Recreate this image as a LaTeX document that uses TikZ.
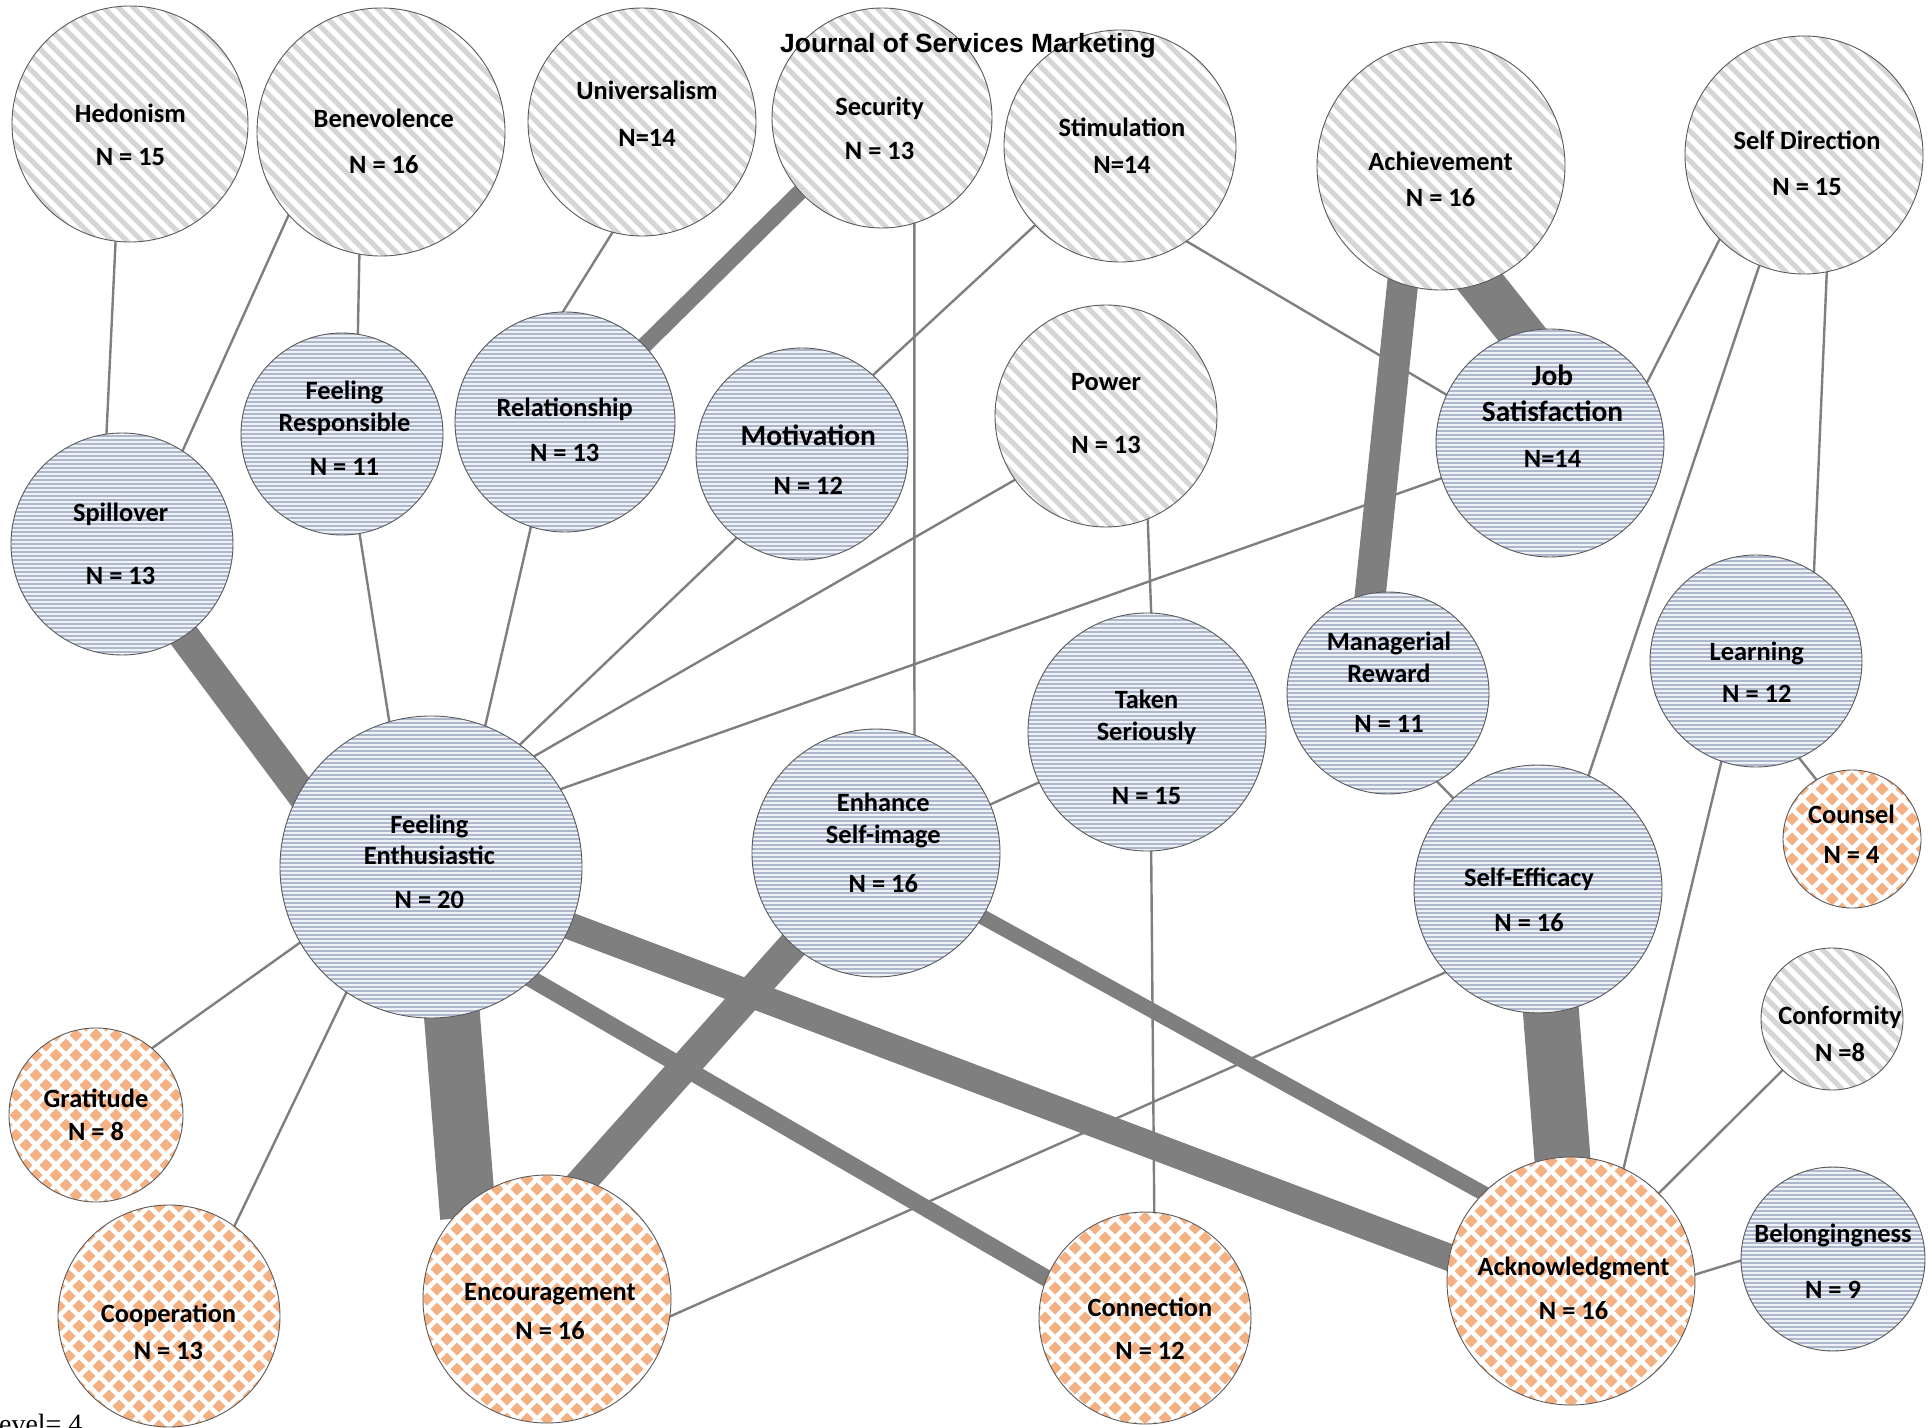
\documentclass[tikz,border=0pt]{standalone}
\usepackage{fontspec}
\setmainfont{Carlito}
\newfontfamily\titlefont{Liberation Sans}
\newfontfamily\seriffont{Liberation Serif}
\pgfdeclarelayer{background}
\pgfsetlayers{background,main}
\definecolor{edgec}{HTML}{7F7F7F}
\definecolor{stripeG}{HTML}{D6D6D6}
\definecolor{stripeB}{HTML}{ADB8CD}
\definecolor{fillB}{HTML}{EEF1F6}
\definecolor{orangeD}{HTML}{F4B183}
\definecolor{rimc}{HTML}{595959}
\tikzset{
  basecirc/.style={circle, draw=rimc, line width=0.9pt, inner sep=0pt, minimum size=#1},
  valuenode/.style={basecirc=#1, fill=white, path picture={
      \begin{scope}[shift={(path picture bounding box.center)}]
        \foreach \k in {-17,...,17}
          \draw[line width=5bp, stripeG] (\k*15-175,-175) -- (\k*15+175,175);
      \end{scope}}},
  feelnode/.style={basecirc=#1, fill=fillB, path picture={
      \begin{scope}[shift={(path picture bounding box.center)}]
        \foreach \k in {-39,...,39}
          \draw[line width=2bp, stripeB] (-160,\k*4) -- (160,\k*4);
      \end{scope}}},
  actnode/.style={basecirc=#1, fill=white, path picture={
      \begin{scope}[shift={(path picture bounding box.center)}]
        \foreach \a in {-7,...,7}
          \foreach \b in {-7,...,7} {
            \fill[orangeD] (\a*20,\b*20-6.5) -- (\a*20+6.5,\b*20) -- (\a*20,\b*20+6.5) -- (\a*20-6.5,\b*20) -- cycle;
            \fill[orangeD] (\a*20+10,\b*20+3.5) -- (\a*20+16.5,\b*20+10) -- (\a*20+10,\b*20+16.5) -- (\a*20+3.5,\b*20+10) -- cycle;
          }
      \end{scope}}},
  lbl/.style={font=\bfseries\fontsize{26.5}{30}\selectfont, inner sep=0pt, text height=16.7pt, text depth=0pt, anchor=center},
  biglbl/.style={font=\bfseries\fontsize{29.5}{34}\selectfont, inner sep=0pt, text height=18.6pt, text depth=0pt, anchor=center},
  edge/.style={draw=edgec, line width=2.4bp, shorten <=-14pt, shorten >=-14pt},
}
\begin{document}
\begin{tikzpicture}[x=1bp, y=-1bp]
\useasboundingbox (0,0) rectangle (1929,1428);

% value nodes (grey diagonal stripes)
\node[valuenode=236bp] (hed) at (130,124) {};
\node[valuenode=248bp] (ben) at (381,132) {};
\node[valuenode=228bp] (uni) at (642,122) {};
\node[valuenode=220bp] (sec) at (882,118) {};
\node[valuenode=232bp] (sti) at (1120,146) {};
\node[valuenode=248bp] (ach) at (1441,166) {};
\node[valuenode=238bp] (sdir) at (1804,155) {};
\node[valuenode=222bp] (pow) at (1106,416) {};
\node[valuenode=142bp] (conf) at (1832,1019) {};

% feeling nodes (blue horizontal stripes)
\node[feelnode=202bp] (fr) at (342,434) {};
\node[feelnode=220bp] (rel) at (565,422) {};
\node[feelnode=212bp] (mot) at (802,454) {};
\node[feelnode=222bp] (spill) at (122,544) {};
\node[feelnode=228bp] (js) at (1550,443) {};
\node[feelnode=202bp] (mr) at (1388,693) {};
\node[feelnode=212bp] (learn) at (1756,661) {};
\node[feelnode=238bp] (ts) at (1147,732) {};
\node[feelnode=248bp] (enh) at (876,853) {};
\node[feelnode=302bp] (fe) at (431,867) {};
\node[feelnode=248bp] (se) at (1538,889) {};
\node[feelnode=184bp] (bel) at (1833,1259) {};

% action nodes (orange diamonds)
\node[actnode=138bp] (couns) at (1852,839) {};
\node[actnode=174bp] (grat) at (96,1115) {};
\node[actnode=222bp] (coop) at (169,1316) {};
\node[actnode=248bp] (enc) at (547,1299) {};
\node[actnode=212bp] (conn) at (1145,1318) {};
\node[actnode=248bp] (ack) at (1571,1281) {};

% connectors
\begin{pgfonlayer}{background}
\draw[edge] (hed.263) -- (spill.98);
\draw[edge] (ben.222) -- (spill.57);
\draw[edge] (ben.260) -- (fr.81);
\draw[edge] (uni.255) -- (rel.91);
\draw[edge, line width=16bp] (sec.222) -- (rel.44);
\draw[edge] (sec.287) -- (enh.72);
\draw[edge] (sti.223) -- (mot.48);
\draw[edge] (sti.305) -- (js.155);
\draw[edge, line width=31bp] (ach.252) -- (mr.100);
\draw[edge, line width=45bp] (ach.289) -- (js.105);
\draw[edge] (sdir.225) -- (js.32);
\draw[edge] (sdir.248) -- (se.66);
\draw[edge] (sdir.281) -- (learn.57);
\draw[edge] (pow.215) -- (fe.47);
\draw[edge] (pow.292) -- (ts.88);
\draw[edge] (fr.280) -- (fe.106);
\draw[edge] (rel.252) -- (fe.69);
\draw[edge] (mot.232) -- (fe.54);
\draw[edge] (js.198) -- (fe.31);
\draw[edge, line width=31bp] (spill.304) -- (fe.150);
\draw[edge] (enh.23) -- (ts.205);
\draw[edge] (mr.299) -- (se.133);
\draw[edge] (learn.294) -- (couns.121);
\draw[edge] (learn.251) -- (ack.65);
\draw[edge] (ts.272) -- (conn.85);
\draw[edge] (fe.210) -- (grat.50);
\draw[edge] (fe.236) -- (coop.54);
\draw[edge, line width=56bp] (fe.278) -- (enc.130);
\draw[edge, line width=17bp] (fe.312) -- (conn.158);
\draw[edge, line width=27bp] (fe.337) -- (ack.169);
\draw[edge, line width=30bp] (enh.228) -- (enc.73);
\draw[edge, line width=15bp] (enh.329) -- (ack.135);
\draw[edge] (se.222) -- (enc.352);
\draw[edge, line width=56bp] (se.276) -- (ack.94);
\draw[edge] (conf.226) -- (ack.45);
\draw[edge] (bel.181) -- (ack.3);
\end{pgfonlayer}

% labels
\node[lbl] (hedA) at (130.4,114.4) {Hedonism};
\node[lbl] (hedB) at (130.4,157) {N = 15};
\node[lbl] (benA) at (383.8,119.3) {Benevolence};
\node[lbl] (benB) at (383.8,164.8) {N = 16};
\node[lbl] (uniA) at (647,91) {Universalism};
\node[lbl] (uniB) at (647,137.8) {N=14};
\node[lbl] (secA) at (879.6,107) {Security};
\node[lbl] (secB) at (879.6,151.3) {N = 13};
\node[lbl] (stiA) at (1122,128) {Stimulation};
\node[lbl] (stiB) at (1122,164.8) {N=14};
\node[lbl] (achA) at (1440.6,162.4) {Achievement};
\node[lbl] (achB) at (1440.6,198) {N = 16};
\node[lbl] (sdirA) at (1807,141.5) {Self Direction};
\node[lbl] (sdirB) at (1807,187) {N = 15};
\node[lbl] (powA) at (1106,382.6) {Power};
\node[lbl] (powB) at (1106,445.3) {N = 13};
\node[lbl] (frA) at (344.5,391.2) {Feeling};
\node[lbl] (frB) at (344.5,423.2) {Responsible};
\node[lbl] (frC) at (344.5,467.5) {N = 11};
\node[lbl] (relA) at (564.7,408.4) {Relationship};
\node[lbl] (relB) at (564.7,452.7) {N = 13};
\node[biglbl] (motA) at (808.3,436.7) {Motivation};
\node[lbl] (motB) at (808.3,486) {N = 12};
\node[lbl] (spillA) at (120.6,513) {Spillover};
\node[lbl] (spillB) at (120.6,575.7) {N = 13};
\node[biglbl] (jsA) at (1552.5,376.4) {Job};
\node[biglbl] (jsB) at (1552.5,412.1) {Satisfaction};
\node[lbl] (jsC) at (1552.5,458.9) {N=14};
\node[lbl] (mrA) at (1389,642.2) {Managerial};
\node[lbl] (mrB) at (1389,674.2) {Reward};
\node[lbl] (mrC) at (1389,724.6) {N = 11};
\node[lbl] (learnA) at (1756.8,652) {Learning};
\node[lbl] (learnB) at (1756.8,693.8) {N = 12};
\node[lbl] (tsA) at (1146.5,700) {Taken};
\node[lbl] (tsB) at (1146.5,732) {Seriously};
\node[lbl] (tsC) at (1146.5,796) {N = 15};
\node[lbl] (enhA) at (883.3,803.3) {Enhance};
\node[lbl] (enhB) at (883.3,835.3) {Self-image};
\node[lbl] (enhC) at (883.3,884.5) {N = 16};
\node[lbl] (feA) at (429.3,825.5) {Feeling};
\node[lbl] (feB) at (429.3,856.5) {Enthusiastic};
\node[lbl] (feC) at (429.3,900) {N = 20};
\node[lbl] (seA) at (1529,878.4) {Self-Efficacy};
\node[lbl] (seB) at (1529,922.7) {N = 16};
\node[lbl] (counsA) at (1851.5,815.6) {Counsel};
\node[lbl] (counsB) at (1851.5,855) {N = 4};
\node[lbl] (confA) at (1840,1016) {Conformity};
\node[lbl] (confB) at (1840,1053.3) {N =8};
\node[lbl] (gratA) at (96,1099.3) {Gratitude};
\node[lbl] (gratB) at (96,1131.7) {N = 8};
\node[lbl] (coopA) at (168.5,1313.8) {Cooperation};
\node[lbl] (coopB) at (168.5,1350.8) {N = 13};
\node[lbl] (encA) at (550,1291.7) {Encouragement};
\node[lbl] (encB) at (550,1331) {N = 16};
\node[lbl] (connA) at (1150,1307.7) {Connection};
\node[lbl] (connB) at (1150,1350.8) {N = 12};
\node[lbl] (ackA) at (1573.5,1266.7) {Acknowledgment};
\node[lbl] (ackB) at (1573.5,1311) {N = 16};
\node[lbl] (belA) at (1833,1234) {Belongingness};
\node[lbl] (belB) at (1833,1290.5) {N = 9};

\node[font=\titlefont\bfseries\fontsize{26.5}{30}\selectfont, inner sep=0pt, text height=19pt, text depth=0pt, anchor=center] (title) at (968,42.7) {Journal of Services Marketing};
\node[font=\seriffont\fontsize{28}{32}\selectfont, inner sep=0pt, anchor=base west] (lvl) at (-18,1433) {Level= 4};
\end{tikzpicture}
\end{document}
